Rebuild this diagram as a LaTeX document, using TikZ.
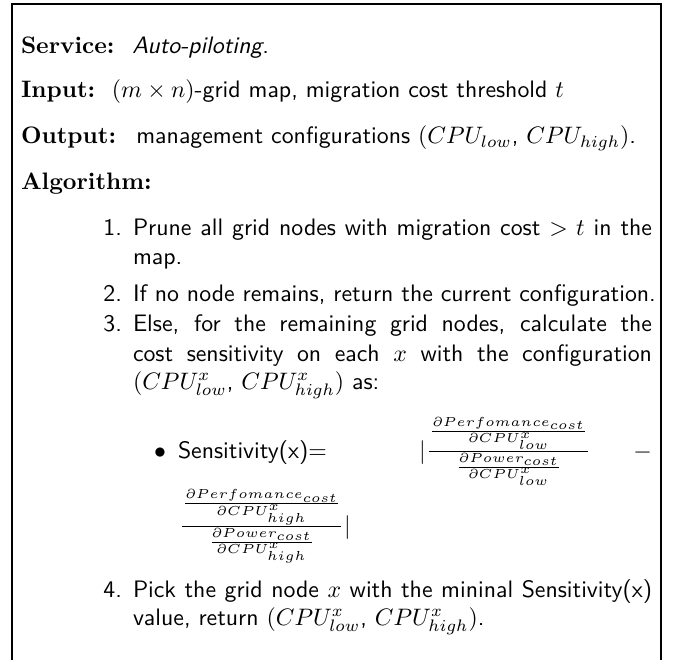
\documentclass[tikz,border=0pt]{standalone}
\usepackage{amsmath}
\newcommand{\fsz}{\fontsize{10pt}{12pt}\selectfont}
\newcommand{\lab}[1]{{\rmfamily\bfseries #1}}
\newcommand{\lw}{218pt}
\tikzset{
  frameline/.style={line width=1.05pt, line join=miter},
  txt/.style={anchor=base west, inner sep=0pt, outer sep=0pt, font=\fsz\sffamily},
  num/.style={anchor=base east, inner sep=0pt, outer sep=0pt, font=\fsz\sffamily},
  ctr/.style={anchor=base, inner sep=0pt, outer sep=0pt, font=\fsz\sffamily},
  rgt/.style={anchor=base east, inner sep=0pt, outer sep=0pt, font=\fsz\sffamily},
  bigfrac/.style={txt, scale=1.1, transform shape}
}
\begin{document}
\begin{tikzpicture}[x=0.42pt,y=-0.42pt]
\useasboundingbox (0,0) rectangle (673,660);
\fill[white] (0,0) rectangle (673,660);
% frame (open at the bottom)
\coordinate (fbl) at (12,661);
\coordinate (ftl) at (12,4);
\coordinate (ftr) at (661,4);
\coordinate (fbr) at (661,661);
\draw[frameline] (fbl) -- (ftl) -- (ftr) -- (fbr);
% header lines
\node[txt] (svc) at (21,54) {\lab{Service:}\hspace{0.75em}\textit{Auto-piloting}.};
\node[txt] (inp) at (21,98) {\lab{Input:}\hspace{0.7em}$(m\times n)$-grid map, migration cost threshold $t$};
\node[txt] (out) at (21,144) {\lab{Output:}\hspace{0.85em}management configurations $(CPU_{low}$, $CPU_{high})$.};
\node[txt] (alg) at (21,190) {\lab{Algorithm:}};
% item 1
\node[num] (n1) at (122,236) {1.};
\node[txt] (i1a) at (133,236) {\makebox[\lw][s]{Prune all grid nodes with migration cost $>t$ in the}};
\node[txt] (i1b) at (133,265) {map.};
% item 2
\node[num] (n2) at (122,301) {2.};
\node[txt] (i2) at (133,301) {If no node remains, return the current configuration.};
% item 3
\node[num] (n3) at (122,332) {3.};
\node[txt] (i3a) at (133,332) {\makebox[\lw][s]{Else, for the remaining grid nodes, calculate the}};
\node[txt] (i3b) at (133,361) {\makebox[\lw][s]{cost sensitivity on each $x$ with the configuration}};
\node[txt] (i3c) at (133,389) {$(CPU^x_{low}$, $CPU^x_{high})$ as:};
% bullet
\node[ctr] (bul) at (160,458) {$\bullet$};
\node[txt] (sens) at (178,458) {Sensitivity(x)=};
\node[txt] (bara) at (419,458) {$|$};
\node[bigfrac] (fa) at (426,458) {$\frac{\frac{\partial Perfomance_{cost}}{\partial CPU^x_{low}}}{\frac{\partial Power_{cost}}{\partial CPU^x_{low}}}$};
\node[rgt] (minus) at (652,458) {$-$};
\node[bigfrac] (fb) at (179,533) {$\frac{\frac{\partial Perfomance_{cost}}{\partial CPU^x_{high}}}{\frac{\partial Power_{cost}}{\partial CPU^x_{high}}}$};
\node[txt] (barb) at (fb.base east) {$|$};
% item 4
\node[num] (n4) at (122,597) {4.};
\node[txt] (i4a) at (133,597) {\makebox[\lw][s]{Pick the grid node $x$ with the mininal Sensitivity(x)}};
\node[txt] (i4b) at (133,625) {value, return $(CPU^x_{low}$, $CPU^x_{high})$.};
\end{tikzpicture}
\end{document}
